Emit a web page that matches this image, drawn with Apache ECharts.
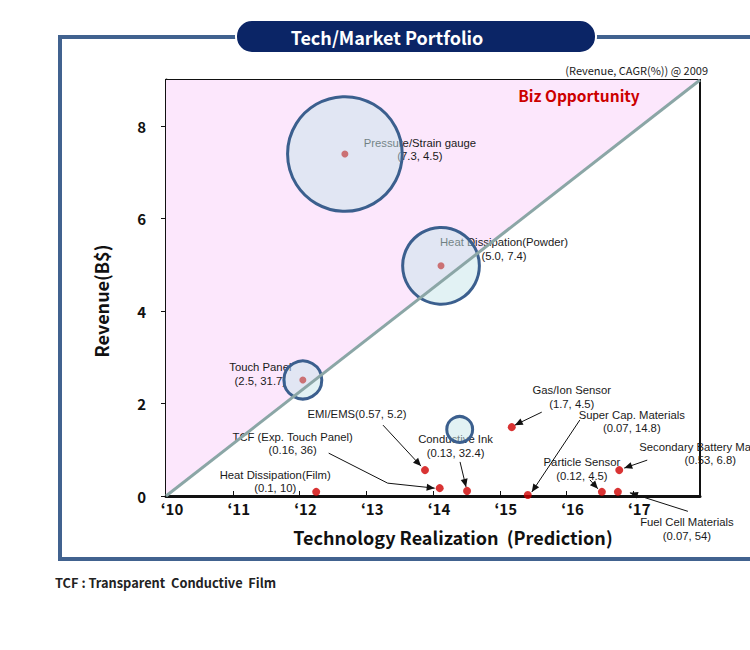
<!DOCTYPE html>
<html><head><meta charset="utf-8">
<script src="https://cdn.jsdelivr.net/npm/echarts@6/dist/echarts.min.js"></script>
<style>html,body{margin:0;padding:0;background:#fff}#c{width:750px;height:650px}</style>
</head><body><div id="c"></div>
<script>
// ---- data ----
const xTickLabels = ['‘10','‘11','‘12','‘13','‘14','‘15','‘16','‘17'];
const xStartYear = 2010;

// large bubbles (position = realization year, revenue axis), radius in revenue units
const bubbleNames   = ['Pressure/Strain gauge', 'Heat Dissipation(Powder)', 'Touch Panel', ''];
const bubbleX       = [2012.68, 2014.12, 2012.05, 2014.40];
const bubbleY       = [7.40, 4.98, 2.51, 1.44];
const bubbleRadius  = [1.24, 0.83, 0.41, 0.28];
const bubbleRevenue = ['7.3', '5.0', '2.5', ''];
const bubbleCagr    = ['4.5', '7.4', '31.7', ''];
const bubbleHasDot  = [true, true, true, false];

// small points
const pointNames   = ['Heat Dissipation(Film)', 'EMI/EMS', 'TCF (Exp. Touch Panel)', 'Conductive Ink',
                      'Gas/Ion Sensor', 'Super Cap. Materials', 'Particle Sensor', 'Fuel Cell Materials',
                      'Secondary Battery Materials'];
const pointX       = [2012.25, 2013.88, 2014.10, 2014.51, 2015.18, 2015.42, 2016.53, 2016.77, 2016.79];
const pointY       = [0.09, 0.56, 0.17, 0.11, 1.49, 0.02, 0.09, 0.09, 0.56];
const pointRevenue = ['0.1', '0.57', '0.16', '0.13', '1.7', '0.07', '0.12', '0.07', '0.53'];
const pointCagr    = ['10', '5.2', '36', '32.4', '4.5', '14.8', '4.5', '54', '6.8'];

// diagonal (tech = market) line endpoints
const diagX = [2010, 2018];
const diagY = [0, 9];

// ---- layout (pixel offsets from the mark, styling only) ----
const bubbleLabelLayout = [
  {label: [75, -4.5]},
  {label: [63, -17]},
  {label: [-42.5, -6]},
  null
];
const pointLabelLayout = [
  {label: [-41, -10.5]},
  {label: [-68, -56], oneLine: true, arrow: [[-42, -45], [-4, -4]]},
  {label: [-147, -44.5], arrow: [[-111, -35], [-52, -5], [-5, 0]]},
  {label: [-11.5, -45], arrow: [[-7, -29], [-1, -4]]},
  {label: [60, -30], arrow: [[30, -15], [3, -2]]},
  {label: [104, -73.5], arrow: [[52, -75], [4, -3]]},
  {label: [-20, -23], arrow: [[-12, -12], [-4, -3]]},
  {label: [69, 37], arrow: [[70, 19.5], [12, 1]]},
  {label: [91, -16.5], arrow: [[28, -10], [5, -2]]}
];

const FONT = '"Noto Sans CJK KR", "Noto Sans", sans-serif';
const LABEL_FONT = '11.3px "Liberation Sans", Arial, sans-serif';

function makeLabelRenderer(names, revs, cagrs, layouts) {
  return function (params, api) {
    const i = params.dataIndex;
    const L = layouts[i];
    if (!L) return null;
    const p = api.coord([api.value(0), api.value(1)]);
    const txt = L.oneLine ? names[i] + '(' + revs[i] + ', ' + cagrs[i] + ')'
                          : names[i] + '\n(' + revs[i] + ', ' + cagrs[i] + ')';
    const children = [{
      type: 'text', x: p[0] + L.label[0], y: p[1] + L.label[1],
      style: {text: txt, align: 'center', verticalAlign: 'middle',
              font: LABEL_FONT, fill: '#1a1a1a', lineHeight: 13.5}
    }];
    if (L.arrow) {
      const pts = L.arrow.map(o => [p[0] + o[0], p[1] + o[1]]);
      children.push({type: 'polyline', shape: {points: pts}, style: {stroke: '#111', lineWidth: 1, fill: null}});
      const a = pts[pts.length - 2], b = pts[pts.length - 1];
      const ang = Math.atan2(b[1] - a[1], b[0] - a[0]);
      const len = 8, w = 3.5;
      const bx = b[0] - len * Math.cos(ang), by = b[1] - len * Math.sin(ang);
      children.push({type: 'polygon', shape: {points: [b,
        [bx - w * Math.sin(ang), by + w * Math.cos(ang)],
        [bx + w * Math.sin(ang), by - w * Math.cos(ang)]]}, style: {fill: '#111'}});
    }
    return {type: 'group', children};
  };
}

const chart = echarts.init(document.getElementById('c'), null, {renderer: 'svg'});
chart.setOption({
  animation: false,
  backgroundColor: '#fff',
  grid: {left: 166, right: 50, top: 80, bottom: 154, show: true, borderColor: '#111', borderWidth: 2, backgroundColor: '#fff'},
  xAxis: {
    type: 'value', min: 2010, max: 2018, interval: 1,
    axisLine: {lineStyle: {color: '#111', width: 3}},
    axisTick: {inside: true, length: 5, lineStyle: {color: '#111', width: 1}},
    splitLine: {show: false},
    axisLabel: {showMaxLabel: false, margin: 5, color: '#111', fontWeight: 'bold', fontSize: 15, fontFamily: FONT,
                padding: [0, 0, 0, 12],
                formatter: v => xTickLabels[Math.round(v) - xStartYear] || ''},
    name: 'Technology Realization  (Prediction)', nameLocation: 'middle', nameGap: 32,
    nameTextStyle: {color: '#111', fontWeight: 'bold', fontSize: 18, fontFamily: FONT, padding: [0, 0, 0, 40]}
  },
  yAxis: {
    type: 'value', min: 0, max: 9, interval: 2,
    axisLine: {lineStyle: {color: '#111', width: 3}},
    axisTick: {length: 5, lineStyle: {color: '#111', width: 1}},
    splitLine: {show: false},
    axisLabel: {showMaxLabel: false, margin: 20, color: '#111', fontWeight: 'bold', fontSize: 15, fontFamily: FONT},
    name: 'Revenue(B$)', nameLocation: 'middle', nameGap: 56, nameRotate: 90,
    nameTextStyle: {color: '#111', fontWeight: 'bold', fontSize: 18, fontFamily: FONT, padding: [0, 26, 0, 0]}
  },
  graphic: [
    {type: 'rect', z: 0, shape: {x: 60, y: 37, width: 720, height: 522},
     style: {fill: null, stroke: '#41628f', lineWidth: 4}},
    {type: 'rect', z: 10, shape: {x: 236, y: 20, width: 360, height: 33, r: 16},
     style: {fill: '#0b2566', stroke: '#fff', lineWidth: 2}},
    {type: 'text', z: 11, x: 387, y: 36.5,
     style: {text: 'Tech/Market Portfolio', align: 'center', verticalAlign: 'middle',
             font: 'bold 18px ' + FONT, fill: '#fff'}},
    {type: 'text', z: 11, x: 708, y: 70,
     style: {text: '(Revenue, CAGR(%)) @ 2009', align: 'right', verticalAlign: 'middle',
             font: '11px ' + FONT, fill: '#1a1a1a'}},
    {type: 'text', z: 11, x: 579, y: 95,
     style: {text: 'Biz Opportunity', align: 'center', verticalAlign: 'middle',
             font: 'bold 15.5px ' + FONT, fill: '#cc0000'}},
    {type: 'text', z: 11, x: 55, y: 582,
     style: {text: 'TCF : Transparent  Conductive  Film', align: 'left', verticalAlign: 'middle',
             font: 'bold 12.8px ' + FONT, fill: '#222'}}
  ],
  series: [
    { // pink opportunity area above diagonal
      type: 'line', z: 1, silent: true, symbol: 'none',
      data: diagX.map((x, i) => [x, diagY[i]]),
      lineStyle: {width: 0},
      areaStyle: {origin: 'end', color: '#fce7fc', opacity: 1}
    },
    { // labels of bubbles (under bubble fill)
      type: 'custom', z: 2, silent: true,
      encode: {x: 0, y: 1},
      data: bubbleX.map((x, i) => [x, bubbleY[i]]),
      renderItem: makeLabelRenderer(bubbleNames, bubbleRevenue, bubbleCagr, bubbleLabelLayout)
    },
    { // labels of points
      type: 'custom', z: 2, silent: true,
      encode: {x: 0, y: 1},
      data: pointX.map((x, i) => [x, pointY[i]]),
      renderItem: makeLabelRenderer(pointNames, pointRevenue, pointCagr, pointLabelLayout)
    },
    { // bubbles
      type: 'custom', z: 3, silent: true,
      encode: {x: 0, y: 1},
      data: bubbleX.map((x, i) => [x, bubbleY[i], bubbleRadius[i]]),
      renderItem: function (params, api) {
        const c = api.coord([api.value(0), api.value(1)]);
        const r = api.size([0, api.value(2)])[1];
        return {type: 'circle', shape: {cx: c[0], cy: c[1], r: r},
                style: {fill: 'rgba(198,230,234,0.5)', stroke: '#3b5f8e', lineWidth: 3}};
      }
    },
    { // diagonal line
      type: 'line', z: 4, silent: true, symbol: 'none',
      data: diagX.map((x, i) => [x, diagY[i]]),
      lineStyle: {color: '#8ba6a6', width: 3}
    },
    { // dots in bubbles
      type: 'scatter', z: 5, silent: true, symbolSize: 7,
      itemStyle: {color: '#c65454'},
      data: bubbleX.map((x, i) => [x, bubbleY[i]]).filter((d, i) => bubbleHasDot[i])
    },
    { // small points
      type: 'scatter', z: 5, silent: true, symbolSize: 8,
      itemStyle: {color: '#d00000'},
      data: pointX.map((x, i) => [x, pointY[i]])
    }
  ]
});
</script>
</body></html>
